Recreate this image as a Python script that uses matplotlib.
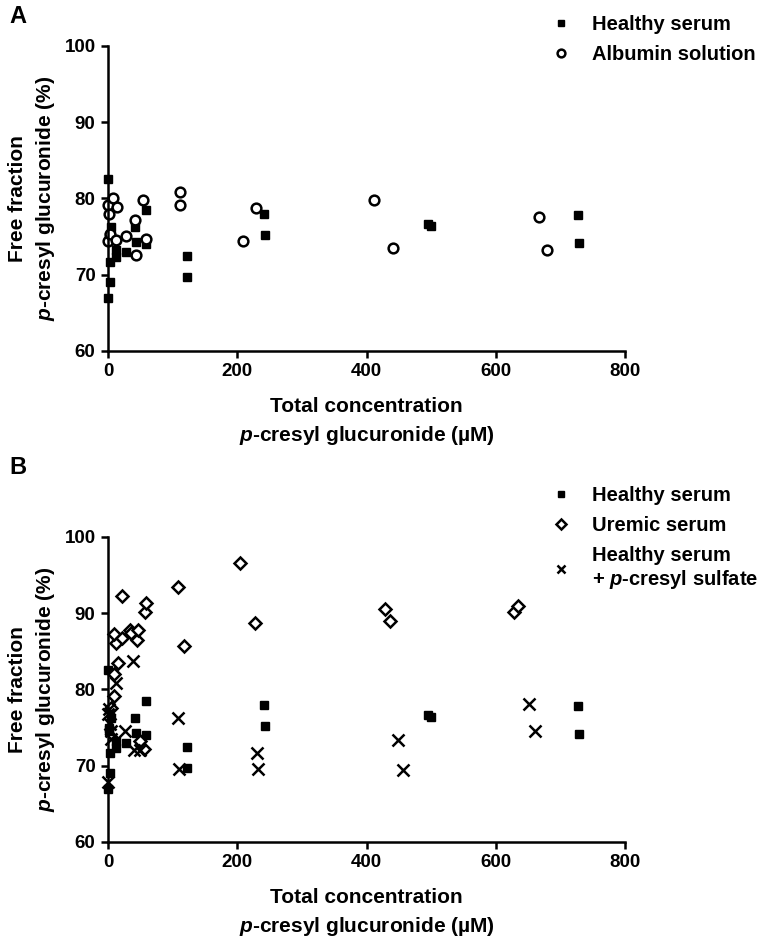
import matplotlib
matplotlib.use("Agg")
import matplotlib.pyplot as plt

plt.rcParams['font.family'] = ['Liberation Sans', 'DejaVu Sans']
plt.rcParams['font.weight'] = 'bold'
plt.rcParams['mathtext.fontset'] = 'custom'
plt.rcParams['mathtext.it'] = 'Liberation Sans:bold:italic'
plt.rcParams['mathtext.rm'] = 'Liberation Sans:bold'

# Healthy serum (same data in A and B)
hs_x = [0, 0, 2, 2, 3, 3, 5, 13, 13, 28, 41, 44, 59, 59, 122, 122, 241, 243, 495, 500, 728, 729]
hs_y = [82.6, 67.0, 75.0, 74.5, 71.7, 69.1, 76.2, 73.2, 72.3, 73.0, 76.2, 74.3, 78.5, 74.0,
        72.4, 69.7, 78.0, 75.2, 76.7, 76.4, 77.8, 74.2]

# Albumin solution
al_x = [0, 0, 2, 3, 7, 14, 13, 28, 41, 44, 54, 59, 111, 112, 209, 229, 412, 441, 667, 680]
al_y = [79.1, 74.4, 77.9, 75.3, 80.0, 78.9, 74.5, 75.1, 77.2, 72.6, 79.8, 74.7, 80.9, 79.1,
        74.4, 78.7, 79.8, 73.5, 77.6, 73.2]

# Uremic serum
ur_x = [5, 9, 10, 12, 10, 15, 21, 22, 34, 36, 45, 46, 50, 55, 58, 59, 108, 117, 205, 228,
        428, 437, 628, 634]
ur_y = [77.6, 79.1, 82.0, 86.1, 87.3, 83.5, 92.3, 86.7, 87.8, 87.4, 86.5, 87.8, 73.2, 72.2,
        90.1, 91.4, 93.4, 85.7, 96.6, 88.7, 90.5, 89.0, 90.2, 91.0]

# Healthy serum + p-cresyl sulfate
pcs_x = [0, 0, 2, 3, 4, 5, 13, 26, 39, 40, 50, 108, 110, 230, 232, 448, 457, 652, 660]
pcs_y = [67.8, 76.8, 77.4, 75.5, 74.5, 73.5, 80.9, 74.6, 83.7, 72.0, 72.0, 76.3, 69.6, 71.7,
         69.6, 73.4, 69.5, 78.1, 74.6]

xticks = [0, 200, 400, 600, 800]
yticks = [60, 70, 80, 90, 100]

fig = plt.figure(figsize=(7.65, 9.4), dpi=100)
axA = fig.add_axes([0.1412, 0.6266, 0.6758, 0.3245])
axB = fig.add_axes([0.1412, 0.1043, 0.6758, 0.3245])


def style(ax):
    ax.set_xlim(0, 800)
    ax.set_ylim(60, 100)
    ax.set_xticks(xticks)
    ax.set_yticks(yticks)
    for s in ['top', 'right']:
        ax.spines[s].set_visible(False)
    for s in ['left', 'bottom']:
        ax.spines[s].set_linewidth(1.8)
    ax.tick_params(direction='out', length=5, width=1.8, labelsize=13.5, pad=4)
    for lab in ax.get_xticklabels() + ax.get_yticklabels():
        lab.set_fontweight('bold')
    ax.set_xlabel('Total concentration\n$p$-cresyl glucuronide (\u00b5M)', fontsize=15,
                  fontweight='bold', labelpad=12, linespacing=1.45)
    ax.set_ylabel('Free fraction\n$p$-cresyl glucuronide (%)', fontsize=15,
                  fontweight='bold', labelpad=5, linespacing=1.45)


kw = dict(linestyle='none', clip_on=False)
axA.plot(hs_x, hs_y, marker='s', color='black', markersize=6, label='Healthy serum', **kw)
axA.plot(al_x, al_y, marker='o', mfc='white', mec='black', mew=1.8, markersize=7,
         label='Albumin solution', **kw)
style(axA)

axB.plot(hs_x, hs_y, marker='s', color='black', markersize=6, label='Healthy serum', **kw)
axB.plot(ur_x, ur_y, marker='D', mfc='white', mec='black', mew=1.8, markersize=6,
         label='Uremic serum', **kw)
axB.plot(pcs_x, pcs_y, marker='x', color='black', mew=1.8, markersize=8,
         label='Healthy serum\n+ $p$-cresyl sulfate', **kw)
style(axB)

legA = axA.legend(loc='upper left', bbox_to_anchor=(0.697, 1.003), bbox_transform=fig.transFigure,
                  frameon=False, handlelength=1.0, handletextpad=1.0, labelspacing=0.55,
                  prop={'size': 14.5, 'weight': 'bold'}, markerscale=0.8)
legB = axB.legend(loc='upper left', bbox_to_anchor=(0.697, 0.502), bbox_transform=fig.transFigure,
                  frameon=False, handlelength=1.0, handletextpad=1.0, labelspacing=0.55,
                  prop={'size': 14.5, 'weight': 'bold'}, markerscale=0.8)
for t in legB.get_texts():
    t.set_linespacing(1.15)

fig.text(0.012, 0.995, 'A', fontsize=17, fontweight='bold', va='top')
fig.text(0.012, 0.515, 'B', fontsize=17, fontweight='bold', va='top')

fig.savefig('out.png', dpi=100)
